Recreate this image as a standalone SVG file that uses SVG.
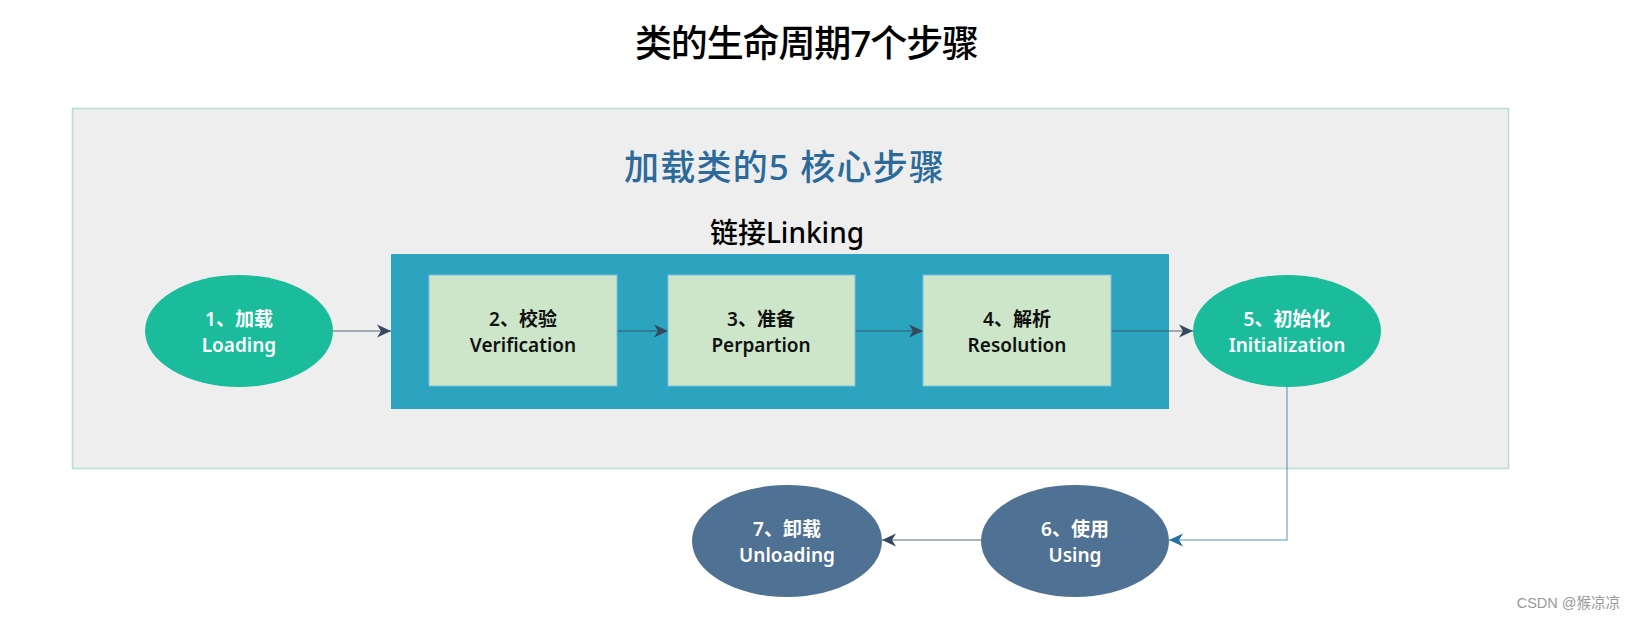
<svg xmlns="http://www.w3.org/2000/svg" width="1636" height="618" viewBox="0 0 1636 618">
<style>
.t{font-family:"Noto Sans","Noto Sans CJK SC",sans-serif;}
.lbl{font-family:"Noto Sans","Noto Sans CJK SC",sans-serif;font-size:19px;font-weight:600;text-anchor:middle;}
.w{fill:#ffffff;}
.k{fill:#111111;}
.green{fill:#1abc9c;}
.slate{fill:#4f7193;}
.box{fill:#cde6c9;stroke:#7fbfe0;stroke-width:1;}
.conn{fill:none;stroke:#34495e;stroke-opacity:0.55;stroke-width:1.5;}
.connb{fill:none;stroke:#2471a3;stroke-opacity:0.5;stroke-width:1.5;}
</style>
<defs>
<marker id="ah" viewBox="0 0 14 14" markerWidth="14" markerHeight="14" refX="14" refY="7" orient="auto" markerUnits="userSpaceOnUse">
<path d="M0,0.5 L14,7 L0,13.5 L4,7 Z" fill="#34495e"/>
</marker>
<marker id="ahb" viewBox="0 0 14 14" markerWidth="14" markerHeight="14" refX="14" refY="7" orient="auto" markerUnits="userSpaceOnUse">
<path d="M0,0.5 L14,7 L0,13.5 L4,7 Z" fill="#2471a3"/>
</marker>
</defs>
<rect width="1636" height="618" fill="#ffffff"/>
<text class="t" x="807" y="57" font-size="37" font-weight="500" text-anchor="middle" fill="#000000" textLength="344" lengthAdjust="spacing">类的生命周期7个步骤</text>
<g id="container">
<rect x="72.5" y="108.5" width="1436" height="360" fill="#eeeeee" stroke="#b3e0d5" stroke-width="1.5"/>
<text class="t" x="784" y="180" font-size="35" font-weight="500" text-anchor="middle" fill="#2b6a9a" textLength="320" lengthAdjust="spacing">加载类的5 核心步骤</text>
</g>
<g id="linking">
<rect x="391" y="254" width="778" height="155" fill="#2ca3bf"/>
<text class="t" x="787" y="243" font-size="28" font-weight="500" text-anchor="middle" fill="#000000">链接Linking</text>
</g>
<g id="connectors">
<line class="conn" x1="333" y1="331" x2="391" y2="331" marker-end="url(#ah)"/>
<line class="conn" x1="617" y1="331" x2="668" y2="331" marker-end="url(#ah)"/>
<line class="conn" x1="855" y1="331" x2="923" y2="331" marker-end="url(#ah)"/>
<line class="conn" x1="1111" y1="331" x2="1193" y2="331" marker-end="url(#ah)"/>
<polyline class="connb" points="1287,387 1287,540 1169,540" marker-end="url(#ahb)"/>
<line class="conn" x1="981" y1="540" x2="882" y2="540" marker-end="url(#ah)"/>
</g>
<g id="n1">
<ellipse class="green" cx="239" cy="331" rx="94" ry="56"/>
<text class="lbl w" x="239" y="326">1、加载</text>
<text class="lbl w" x="239" y="352">Loading</text>
</g>
<g id="n2">
<rect class="box" x="429" y="275" width="188" height="111"/>
<text class="lbl k" x="523" y="326">2、校验</text>
<text class="lbl k" x="523" y="352">Verification</text>
</g>
<g id="n3">
<rect class="box" x="668" y="275" width="187" height="111"/>
<text class="lbl k" x="761" y="326">3、准备</text>
<text class="lbl k" x="761" y="352">Perpartion</text>
</g>
<g id="n4">
<rect class="box" x="923" y="275" width="188" height="111"/>
<text class="lbl k" x="1017" y="326">4、解析</text>
<text class="lbl k" x="1017" y="352">Resolution</text>
</g>
<g id="n5">
<ellipse class="green" cx="1287" cy="331" rx="94" ry="56"/>
<text class="lbl w" x="1287" y="326">5、初始化</text>
<text class="lbl w" x="1287" y="352">Initialization</text>
</g>
<g id="n6">
<ellipse class="slate" cx="1075" cy="541" rx="94" ry="56"/>
<text class="lbl w" x="1075" y="536">6、使用</text>
<text class="lbl w" x="1075" y="562">Using</text>
</g>
<g id="n7">
<ellipse class="slate" cx="787" cy="541" rx="95" ry="56"/>
<text class="lbl w" x="787" y="536">7、卸载</text>
<text class="lbl w" x="787" y="562">Unloading</text>
</g>
<text x="1620" y="608" font-family="Liberation Sans,Noto Sans CJK SC,sans-serif" font-size="14.5" text-anchor="end" fill="#999999">CSDN @猴凉凉</text>
</svg>
